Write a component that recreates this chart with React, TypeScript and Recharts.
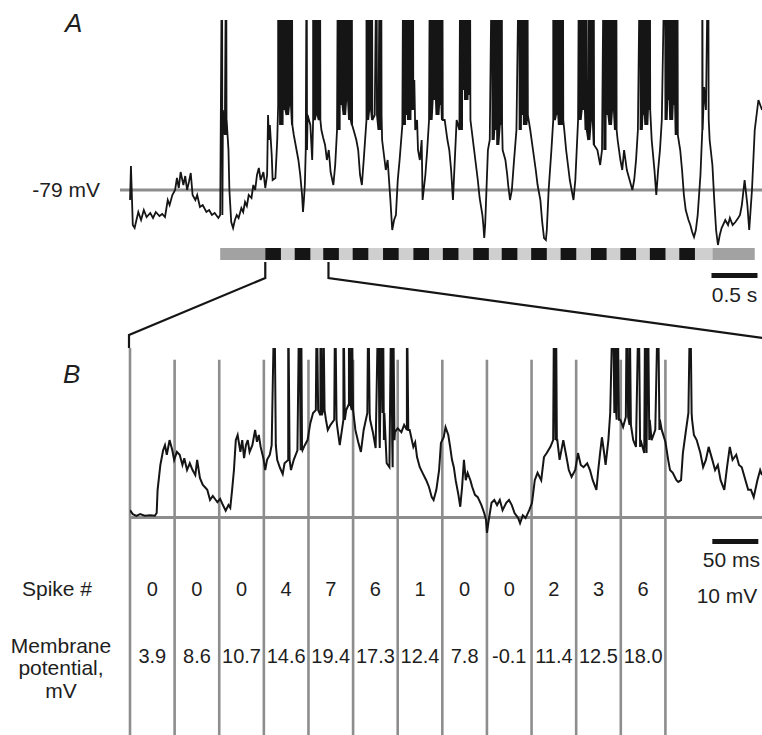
import React from 'react';
import { LineChart, Line, XAxis, YAxis, ReferenceLine, ReferenceArea, ReferenceDot } from 'recharts';

// Panel A: slow trace, time in s, membrane potential in mV
const traceA: [number, number][] = [
  [0.0, -82], [0.01, -71.8], [0.03, -89.5], [0.05, -90.4], [0.09, -85.6], [0.12, -88], [0.15, -85], [0.18, -87.1],
  [0.22, -85.9], [0.25, -87.4], [0.28, -85.6], [0.32, -86.8], [0.35, -86.2], [0.38, -87.1], [0.41, -82], [0.43, -83.5],
  [0.46, -80.5], [0.49, -79], [0.51, -75.4], [0.53, -78.4], [0.55, -73.6], [0.58, -77.5], [0.6, -74.8], [0.62, -79],
  [0.64, -76.6], [0.66, -73.9], [0.68, -80.5], [0.71, -82], [0.73, -80.5], [0.76, -84.1], [0.79, -83.5], [0.83, -85.6],
  [0.86, -85], [0.89, -86.5], [0.92, -85.9], [0.96, -87.4], [0.98, -86.5], [1.01, -55], [1.02, -59.5], [1.03, -62.5],
  [1.05, -58], [1.07, -67], [1.08, -79], [1.1, -88.6], [1.12, -90.4], [1.14, -88], [1.16, -86.5], [1.18, -87.4],
  [1.21, -84.4], [1.23, -85.6], [1.25, -82.6], [1.27, -83.8], [1.29, -80.5], [1.32, -81.4], [1.34, -77.5], [1.36, -79],
  [1.38, -74.5], [1.4, -72.4], [1.42, -76], [1.45, -73.6], [1.47, -78.4], [1.49, -74.5], [1.5, -56.5], [1.51, -64],
  [1.52, -59.5], [1.54, -68.5], [1.55, -76], [1.58, -75.4], [1.6, -64], [1.61, -53.5], [1.63, -59.5], [1.66, -55],
  [1.7, -56.5], [1.73, -53.5], [1.76, -59.5], [1.78, -62.5], [1.8, -65.5], [1.83, -70], [1.85, -74.5], [1.87, -80.5],
  [1.88, -85.6], [1.89, -82], [1.9, -77.5], [1.91, -67], [1.93, -56.5], [1.96, -59.5], [1.98, -70], [1.99, -58],
  [2.02, -56.5], [2.05, -58], [2.08, -61], [2.1, -63.4], [2.12, -65.5], [2.14, -70], [2.16, -67], [2.18, -73.6],
  [2.21, -77.5], [2.23, -71.5], [2.25, -61], [2.28, -53.5], [2.32, -56.5], [2.35, -52], [2.38, -58], [2.41, -59.5],
  [2.43, -61], [2.46, -64], [2.48, -67], [2.5, -74.5], [2.52, -77.5], [2.54, -70], [2.57, -58], [2.6, -55],
  [2.63, -58], [2.66, -56.5], [2.7, -61], [2.72, -56.5], [2.74, -64], [2.76, -68.5], [2.78, -73], [2.8, -70],
  [2.83, -82], [2.85, -91], [2.87, -88], [2.89, -86.5], [2.91, -76], [2.93, -70], [2.96, -59.5], [2.99, -56.5],
  [3.02, -58], [3.05, -55], [3.09, -46], [3.1, -61], [3.12, -58], [3.13, -67], [3.15, -70], [3.17, -64],
  [3.18, -82], [3.21, -74.5], [3.23, -67], [3.25, -58], [3.29, -52], [3.33, -56.5], [3.36, -53.5], [3.39, -58],
  [3.42, -58], [3.45, -64], [3.47, -67], [3.49, -73], [3.51, -82], [3.53, -70], [3.55, -58], [3.58, -61],
  [3.61, -49], [3.64, -52], [3.67, -50.5], [3.7, -58], [3.72, -62.5], [3.74, -67], [3.76, -71.5], [3.78, -76],
  [3.8, -81.4], [3.83, -86.5], [3.84, -89.5], [3.85, -93.4], [3.86, -89.5], [3.87, -82], [3.89, -67], [3.91, -64],
  [3.96, -61], [3.99, -65.5], [4.02, -59.5], [4.05, -67], [4.08, -70], [4.1, -74.5], [4.11, -77.5], [4.13, -82],
  [4.15, -79], [4.17, -71.5], [4.2, -61], [4.25, -56.5], [4.28, -59.5], [4.32, -56.5], [4.35, -61], [4.38, -67],
  [4.41, -73], [4.43, -77.5], [4.46, -82], [4.48, -88.6], [4.5, -93.4], [4.52, -94], [4.53, -91], [4.55, -79],
  [4.58, -67], [4.6, -58], [4.63, -56.5], [4.66, -59.5], [4.7, -58], [4.72, -61], [4.74, -67], [4.76, -71.5],
  [4.78, -76], [4.8, -79], [4.82, -82], [4.84, -76], [4.86, -64], [4.87, -58], [4.91, -55], [4.95, -61],
  [4.98, -64], [5.01, -58], [5.04, -65.5], [5.08, -67], [5.11, -71.5], [5.13, -67], [5.17, -56.5], [5.21, -59.5],
  [5.24, -55], [5.27, -61], [5.3, -64], [5.33, -70], [5.35, -73], [5.37, -67], [5.4, -73], [5.43, -76],
  [5.46, -79], [5.48, -76], [5.5, -70], [5.52, -61], [5.57, -56.5], [5.6, -59.5], [5.63, -55], [5.67, -64],
  [5.7, -73], [5.72, -80.5], [5.74, -73], [5.76, -67], [5.78, -58], [5.84, -52], [5.87, -58], [5.9, -53.5],
  [5.93, -62.5], [5.98, -67], [6.0, -73], [6.02, -80.5], [6.04, -85], [6.07, -88], [6.09, -89.5], [6.11, -91.6],
  [6.13, -93.1], [6.15, -91], [6.17, -86.5], [6.2, -74.5], [6.22, -61], [6.24, -48.1], [6.26, -55], [6.29, -58],
  [6.3, -64], [6.33, -71.5], [6.35, -82], [6.37, -91], [6.39, -95.5], [6.41, -92.5], [6.43, -90.4], [6.47, -88],
  [6.5, -89.5], [6.52, -87.4], [6.55, -89.5], [6.58, -88.6], [6.61, -87.4], [6.63, -86.5], [6.65, -83.5], [6.68, -76],
  [6.71, -83.5], [6.73, -91], [6.76, -79], [6.79, -61], [6.83, -52], [6.87, -55],
];

// spike times in panel A (s)
const spikesA = [
  1.0, 1.045,
  1.61, 1.625, 1.64, 1.655, 1.67, 1.685, 1.7, 1.715, 1.73, 1.745, 1.76,
  1.92,
  1.99, 2.005, 2.02, 2.035, 2.05, 2.065,
  2.26, 2.275, 2.29, 2.305, 2.32, 2.335, 2.35, 2.365, 2.38, 2.395, 2.41,
  2.57, 2.585, 2.6, 2.615, 2.63, 2.68, 2.715, 2.73,
  2.97, 2.985, 3.0, 3.015, 3.03, 3.045, 3.06, 3.075,
  3.26, 3.275, 3.29, 3.305, 3.32, 3.335, 3.35, 3.365, 3.38, 3.395,
  3.59, 3.605, 3.62, 3.635, 3.65, 3.665, 3.68, 3.695,
  3.935, 3.95, 3.97, 3.985, 4.0, 4.02, 4.04,
  4.23, 4.245, 4.26, 4.275, 4.29, 4.305, 4.32,
  4.6, 4.615, 4.63, 4.65, 4.67, 4.69, 4.705,
  4.88, 4.895, 4.91, 4.925, 4.94, 4.96, 4.99, 5.01, 5.025, 5.04,
  5.15, 5.165, 5.18, 5.195, 5.21, 5.225, 5.24, 5.255, 5.27, 5.285,
  5.545, 5.56, 5.575, 5.59, 5.605, 5.62, 5.635, 5.65,
  5.815, 5.83, 5.845, 5.86, 5.875, 5.89, 5.905, 5.92, 5.935, 5.95,
  6.22, 6.285,
];

// visual stimulation: pulse onsets (s)
const stimOnsets = [1.47, 1.79, 2.1, 2.42, 2.75, 3.08, 3.4, 3.73, 4.04, 4.36, 4.68, 5.01, 5.33, 5.65, 5.97];
const stimPulse = 0.17;
const stimPre: [number, number] = [0.98, 1.47];
const stimOn: [number, number] = [1.47, 6.33];
const stimPost: [number, number] = [6.33, 6.79];

// Panel B: expanded segment, time in ms, potential relative to -79 mV
const traceB: [number, number][] = [
  [0, 1.3], [3, 0.6], [7, 0.3], [11, 0.6], [16, 0.3], [22, 0.4], [27, 0.3], [29, 0.8], [30, 4.9], [33, 9.3],
  [36, 11.9], [38, 12.8], [40, 11.1], [43, 13.7], [46, 11.9], [48, 10.2], [51, 11.6], [54, 11.1], [57, 9.3], [59, 10.5],
  [62, 8.4], [65, 9.6], [68, 8.4], [71, 7.5], [73, 10.2], [76, 7.0], [79, 5.8], [84, 4.9], [87, 3.1], [90, 3.8],
  [95, 2.7], [98, 3.3], [101, 2.2], [104, 1.2], [107, 2.2], [109, 1.7], [111, 4.9], [113, 8.4], [115, 13.7], [117, 14.6],
  [120, 11.6], [122, 13.7], [124, 10.5], [126, 12.8], [128, 13.7], [130, 11.6], [133, 12.8], [136, 15.5], [138, 13.4], [140, 14.6],
  [142, 12.5], [145, 10.5], [147, 8.4], [149, 10.2], [152, 11.1], [154, 12.8], [160, 10.2], [163, 8.8], [166, 7.7], [168, 9.6],
  [172, 10.2], [175, 8.4], [178, 10.2], [182, 11.9], [187, 12.3], [190, 12.8], [193, 13.7], [196, 16.7], [199, 18.5], [202, 19.0],
  [207, 18.1], [210, 19.0], [213, 17.3], [215, 15.5], [218, 16.4], [222, 17.3], [225, 16.4], [228, 12.8], [232, 17.3], [235, 19.0],
  [238, 20.1], [241, 19.0], [245, 15.5], [248, 13.4], [251, 11.6], [254, 15.5], [258, 18.5], [261, 17.3], [264, 15.1], [267, 12.3],
  [271, 15.5], [272, 18.5], [276, 13.7], [279, 9.6], [282, 8.9], [285, 13.7], [288, 15.1], [291, 15.8], [295, 15.1], [298, 16.4],
  [301, 15.5], [304, 15.5], [308, 12.5], [310, 13.3], [312, 10.7], [315, 8.9], [318, 7.9], [322, 6.6], [325, 5.4], [328, 3.6],
  [330, 3.1], [333, 4.9], [336, 8.4], [338, 13.2], [341, 14.2], [343, 16.0], [346, 14.6], [348, 12.5], [350, 10.2], [352, 8.9],
  [354, 6.6], [357, 4.0], [359, 1.9], [361, 5.4], [363, 10.2], [365, 6.6], [367, 7.9], [370, 6.6], [372, 5.4], [375, 4.0],
  [378, 3.6], [382, 2.2], [385, 0.8], [387, -0.4], [388, -2.7], [390, -0.4], [393, 2.6], [396, 3.1], [399, 2.2], [402, 3.1],
  [405, 1.3], [409, 2.6], [412, 3.1], [415, 2.2], [418, 0.8], [422, -0.1], [424, -1.0], [427, 0.4], [430, -0.1], [434, 1.3],
  [437, 2.6], [440, 6.6], [443, 7.9], [447, 6.6], [450, 10.7], [453, 11.4], [457, 12.5], [460, 13.7], [464, 13.7], [467, 10.2],
  [471, 13.7], [474, 11.1], [477, 8.4], [480, 7.2], [484, 8.4], [487, 11.4], [490, 9.3], [493, 8.9], [497, 9.6], [500, 8.4],
  [503, 6.6], [507, 4.9], [509, 8.4], [511, 11.4], [513, 14.2], [515, 11.9], [517, 9.3], [520, 13.7], [522, 18.5], [529, 17.3],
  [533, 17.3], [536, 16.0], [539, 17.8], [543, 16.4], [547, 13.7], [550, 12.5], [555, 13.7], [559, 11.4], [561, 13.7], [565, 17.3],
  [567, 13.7], [571, 15.5], [576, 17.3], [578, 15.5], [582, 13.4], [585, 10.2], [587, 8.4], [590, 7.9], [594, 6.6], [596, 6.3],
  [599, 6.6], [601, 11.4], [604, 15.0], [607, 18.5], [611, 17.3], [613, 14.6], [616, 13.7], [620, 11.4], [623, 8.9], [626, 10.2],
  [629, 12.5], [633, 10.2], [636, 8.4], [639, 9.3], [642, 6.6], [646, 4.9], [649, 8.9], [652, 12.5], [655, 10.2], [659, 11.1],
  [662, 9.3], [665, 8.9], [669, 6.6], [672, 4.9], [675, 4.9], [678, 3.6], [682, 6.6], [685, 8.4], [687, 7.5],
];

// spike times in panel B (ms)
const spikesB = [
  157, 172, 184, 186, 203, 207, 210, 223, 232, 238, 241, 259, 270, 273, 275, 284, 286, 301,
  461, 463, 525, 527, 530, 540, 543, 553, 560, 563, 574, 609,
];

// analysis windows (ms) and per-window results
const windowEdges = [0, 48.5, 97, 145.5, 194, 242.5, 291, 339.5, 388, 436.5, 485, 533.5, 582];
const spikeCounts = [0, 0, 0, 4, 7, 6, 1, 0, 0, 2, 3, 6];
const meanPotentials = [3.9, 8.6, 10.7, 14.6, 19.4, 17.3, 12.4, 7.8, -0.1, 11.4, 12.5, 18.0];

const restingMv = -79;
const zoomSpanS = 0.687;

// layout of panel A
const A_LEFT = 120;
const A_XDOMAIN: [number, number] = [-0.109, 6.869];
const A_YDOMAIN: [number, number] = [-112.6, -28];
const A_PX_PER_S = (762 - A_LEFT) / (A_XDOMAIN[1] - A_XDOMAIN[0]);
const ax = (t: number) => A_LEFT + (t - A_XDOMAIN[0]) * A_PX_PER_S;

const B_TOP = 330;
const B_XDOMAIN: [number, number] = [0, 687];
const B_YDOMAIN: [number, number] = [-38.5, 30];

const withSpikes = (trace: [number, number][], spikes: number[], top: number, fall: number) => {
  const pts = trace.map(([t, v]) => ({ t, v }));
  spikes.forEach((s) => {
    let rest = trace[0][1];
    for (const [t, v] of trace) {
      if (t <= s) rest = v;
      else break;
    }
    pts.push({ t: s, v: top }, { t: s + fall, v: rest });
  });
  return pts.sort((a, b) => a.t - b.t);
};

const dataA = withSpikes(traceA, spikesA, 0, 0.004);
const dataB = withSpikes(traceB, spikesB, 40, 1.5);

const INK = '#151515';
const GRID = '#8d8d8d';
const textStyle = { fill: '#1e1e1e', fontSize: 21 };

export default function App() {
  const z0 = ax(stimOnsets[0]);
  const z1 = ax(stimOnsets[0] + zoomSpanS);
  const centers = windowEdges.slice(0, -1).map((e, i) => (e + windowEdges[i + 1]) / 2);

  return (
    <div style={{ position: 'relative', width: 762, height: 735, background: '#fff', overflow: 'hidden', fontFamily: '"Liberation Sans", Arial, sans-serif' }}>
      <style>{'body{margin:0}'}</style>

      <div style={{ position: 'absolute', left: 0, top: 0 }}>
        <LineChart width={762} height={310} data={dataA} margin={{ top: 20, right: 0, bottom: 8, left: A_LEFT }}>
          <XAxis type="number" dataKey="t" domain={A_XDOMAIN} hide allowDataOverflow />
          <YAxis type="number" domain={A_YDOMAIN} hide allowDataOverflow />
          <ReferenceLine
            y={restingMv}
            stroke={GRID}
            strokeWidth={3}
            label={{ value: '-79 mV', position: 'left', offset: 20, ...textStyle }}
          />
          <ReferenceArea x1={stimPre[0]} x2={stimPre[1]} y1={-100} y2={-96.4} fill="#a2a2a2" fillOpacity={1} stroke="none" />
          <ReferenceArea x1={stimOn[0]} x2={stimOn[1]} y1={-100} y2={-96.4} fill="#cfcfcf" fillOpacity={1} stroke="none" />
          <ReferenceArea x1={stimPost[0]} x2={stimPost[1]} y1={-100} y2={-96.4} fill="#a2a2a2" fillOpacity={1} stroke="none" />
          {stimOnsets.map((s) => (
            <ReferenceArea key={s} x1={s} x2={s + stimPulse} y1={-100} y2={-96.4} fill={INK} fillOpacity={1} stroke="none" />
          ))}
          {/* 0.5 s scale bar */}
          <ReferenceArea
            x1={6.32}
            x2={6.82}
            y1={-105.4}
            y2={-103.9}
            fill={INK}
            fillOpacity={1}
            stroke="none"
            label={{ value: '0.5 s', position: 'bottom', offset: 9, ...textStyle }}
          />
          <Line type="linear" dataKey="v" stroke={INK} strokeWidth={1.8} dot={false} isAnimationActive={false} />
        </LineChart>
      </div>

      <div style={{ position: 'absolute', left: 0, top: B_TOP }}>
        <LineChart width={762} height={405} data={dataB} margin={{ top: 18, right: 0, bottom: 0, left: 130 }}>
          <XAxis type="number" dataKey="t" domain={B_XDOMAIN} hide allowDataOverflow />
          <YAxis type="number" domain={B_YDOMAIN} hide allowDataOverflow />
          <ReferenceLine y={0} stroke={GRID} strokeWidth={3} />
          {windowEdges.map((e, i) => (
            <ReferenceLine
              key={e}
              segment={[{ x: e, y: i === 0 ? 30 : 27.9 }, { x: e, y: B_YDOMAIN[0] }]}
              stroke={GRID}
              strokeWidth={2.6}
            />
          ))}
          {/* 50 ms scale bar */}
          <ReferenceArea x1={633} x2={683} y1={-4.7} y2={-3.8} fill={INK} fillOpacity={1} stroke="none" />
          {centers.map((c, i) => (
            <ReferenceDot
              key={`n${c}`}
              x={c}
              y={-12.7}
              r={0}
              fill="none"
              stroke="none"
              label={{ value: String(spikeCounts[i]), position: 'center', fill: '#1e1e1e', fontSize: 20 }}
            />
          ))}
          {centers.map((c, i) => (
            <ReferenceDot
              key={`m${c}`}
              x={c}
              y={-24.5}
              r={0}
              fill="none"
              stroke="none"
              label={{ value: meanPotentials[i].toFixed(1), position: 'center', fill: '#1e1e1e', fontSize: 20 }}
            />
          ))}
          <Line type="linear" dataKey="v" stroke={INK} strokeWidth={2} dot={false} isAnimationActive={false} />
        </LineChart>
      </div>

      <svg width={762} height={735} style={{ position: 'absolute', left: 0, top: 0, pointerEvents: 'none' }}>
        <text x={65} y={32} fontSize={26} fontStyle="italic" fill="#1e1e1e">A</text>
        <text x={63} y={383} fontSize={26} fontStyle="italic" fill="#1e1e1e">B</text>
        <polyline points={`${z0},262 ${z0},278 129,335 129,348`} fill="none" stroke={INK} strokeWidth={2.2} />
        <polyline points={`${z1},262 ${z1},278 770,339`} fill="none" stroke={INK} strokeWidth={2.2} />
        <text x={760} y={567} fontSize={21} textAnchor="end" fill="#1e1e1e">50 ms</text>
        <text x={57} y={596} fontSize={21} textAnchor="middle" fill="#1e1e1e">Spike #</text>
        <text x={61} y={653} fontSize={21} textAnchor="middle" fill="#1e1e1e">Membrane</text>
        <text x={61} y={675} fontSize={21} textAnchor="middle" fill="#1e1e1e">potential,</text>
        <text x={61} y={698} fontSize={21} textAnchor="middle" fill="#1e1e1e">mV</text>
        <text x={727} y={603} fontSize={21} textAnchor="middle" fill="#1e1e1e">10 mV</text>
      </svg>
    </div>
  );
}
